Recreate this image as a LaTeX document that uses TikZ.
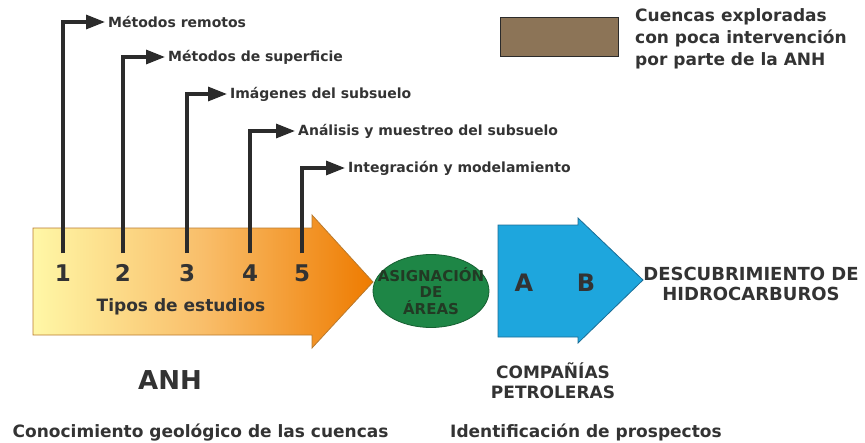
\documentclass[tikz,border=0pt]{standalone}
\usepackage{fontspec}
\setmainfont{DejaVu Sans}
\usepackage{tikz}
\usetikzlibrary{arrows.meta,shapes.geometric}

\definecolor{txtgray}{HTML}{333333}
\definecolor{linegray}{HTML}{2B2B2B}
\definecolor{anhyellow}{HTML}{FFF7A6}
\definecolor{anhmid}{HTML}{F9BE6A}
\definecolor{anhorange}{HTML}{EE7B00}
\definecolor{anhedge}{HTML}{B97A2E}
\definecolor{compblue}{HTML}{1EA6DD}
\definecolor{compedge}{HTML}{1A6D96}
\definecolor{areagreen}{HTML}{1E8646}
\definecolor{areaedge}{HTML}{165F31}
\definecolor{areatxt}{HTML}{223A24}
\definecolor{legendbrown}{HTML}{8C7457}

\begin{document}
\begin{tikzpicture}[x=1pt,y=-1pt,
  every node/.style={text=txtgray},
  steparrow/.style={line width=3.2pt,draw=linegray,-{Triangle[length=19pt,width=14pt]},shorten <=8pt},
  steplabel/.style={anchor=west,inner sep=3pt,font=\fontsize{14}{16}\selectfont\bfseries},
  numlabel/.style={inner sep=3pt,font=\fontsize{23}{26}\selectfont\bfseries},
  bigtitle/.style={align=center,font=\fontsize{18}{19.5}\selectfont\bfseries},
  subtitle/.style={anchor=base west,inner sep=0pt,font=\fontsize{17}{20}\selectfont\bfseries}]

\useasboundingbox (0,0) rectangle (865,442);

% flecha ANH
\shadedraw[left color=anhyellow,right color=anhorange,middle color=anhmid,draw=anhedge,line width=0.8pt]
  (33,228) -- (312,228) -- (312,215) -- (373,282) -- (312,348) -- (312,335) -- (33,335) -- cycle;

\foreach \i/\x/\tx/\ty/\txt in {1/63/105/22/Métodos remotos,
                                 2/123/165/57/Métodos de superficie,
                                 3/187/227/94/Imágenes del subsuelo,
                                 4/250/295/131/Análisis y muestreo del subsuelo,
                                 5/302/345/168/Integración y modelamiento}
	{
	\node[numlabel] (num\i) at (\x,273) {\i};
	\node[steplabel] (lab\i) at (\tx,\ty) {\txt};
	\draw[steparrow] (num\i.north) |- (lab\i.west);
	}

\node[font=\fontsize{17}{20}\selectfont\bfseries] (tipos) at (181,307) {Tipos de estudios};

% asignacion
\node[ellipse,draw=areaedge,fill=areagreen,line width=0.8pt,minimum width=116pt,minimum height=73pt,inner sep=0pt] (asig) at (431,291) {};
\node[align=center,text=areatxt,font=\fontsize{15}{16.5}\selectfont\bfseries] (asigtxt) at (asig) {ASIGNACIÓN\\DE\\ÁREAS};

% flecha companias
\filldraw[fill=compblue,draw=compedge,line width=0.8pt]
  (498,225) -- (578,225) -- (578,218) -- (643,280) -- (578,343) -- (578,337) -- (498,337) -- cycle;
\node[numlabel,font=\fontsize{24}{26}\selectfont\bfseries] (compA) at (524,283) {A};
\node[numlabel,font=\fontsize{24}{26}\selectfont\bfseries] (compB) at (586,283) {B};

\node[bigtitle] (descub) at (751,284) {DESCUBRIMIENTO DE\\HIDROCARBUROS};
\node[align=center,font=\fontsize{17}{20}\selectfont\bfseries] (comp) at (553,381) {COMPAÑÍAS\\PETROLERAS};

% leyenda
\node[draw=linegray,fill=legendbrown,line width=1pt,minimum width=118pt,minimum height=39pt,inner sep=0pt] (legbox) at (559,36.5) {};
\node[anchor=west,align=left,inner sep=3pt,font=\fontsize{17}{22}\selectfont\bfseries] (legtxt) at (632,39) {Cuencas exploradas\\con poca intervención\\por parte de la ANH};

\node[font=\fontsize{26}{28}\selectfont\bfseries] (anh) at (170,380) {ANH};
\node[subtitle] (conoc) at (12.5,437.5) {Conocimiento geológico de las cuencas};
\node[subtitle] (ident) at (450,437.5) {Identificación de prospectos};
\end{tikzpicture}
\end{document}
